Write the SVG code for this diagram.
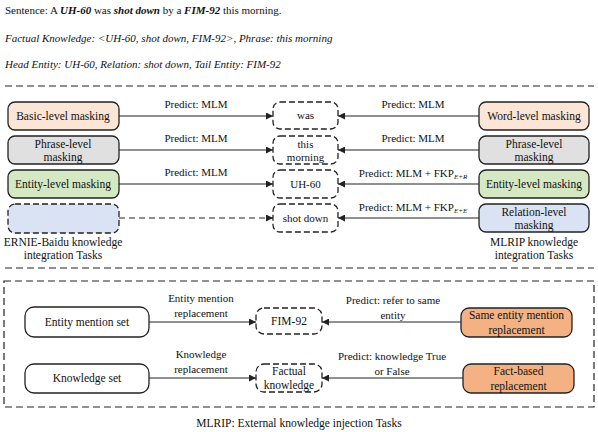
<svg xmlns="http://www.w3.org/2000/svg" width="598" height="432" viewBox="0 0 598 432" font-family="'Liberation Serif', 'DejaVu Serif', serif">
<style>
text{font-family:'Liberation Serif','DejaVu Serif',serif;fill:#111;}
.t{font-size:11px;}
.b{font-size:11.5px;text-anchor:middle;}
.l{font-size:11px;text-anchor:middle;}
.box{stroke:#222;stroke-width:1.3;}
.dbox{fill:#fff;stroke:#222;stroke-width:1.3;stroke-dasharray:6,3;}
.sep{fill:none;stroke:#222;stroke-width:1.2;stroke-dasharray:7,4;}
.ar{stroke:#222;stroke-width:1.2;fill:none;marker-end:url(#ah);}
.ard{stroke:#222;stroke-width:1.2;fill:none;stroke-dasharray:6,4;marker-end:url(#ah);}
</style>
<defs>
<marker id="ah" viewBox="0 0 10 10" refX="10" refY="5" markerWidth="7" markerHeight="7" markerUnits="userSpaceOnUse" orient="auto">
<path d="M0,0 L10,5 L0,10 Z" fill="#222"/>
</marker>
</defs>
<rect width="598" height="432" fill="#fff"/>
<text class="t" x="5" y="14">Sentence: A <tspan font-weight="bold" font-style="italic">UH-60</tspan> was <tspan font-weight="bold" font-style="italic">shot down</tspan>  by a <tspan font-weight="bold" font-style="italic">FIM-92</tspan> this morning.</text>
<text class="t" x="5" y="42" font-style="italic">Factual Knowledge: &lt;UH-60, shot down, FIM-92&gt;, Phrase: this morning</text>
<text class="t" x="5" y="68" font-style="italic">Head Entity: UH-60, Relation: shot down, Tail Entity: FIM-92</text>
<line class="sep" x1="5" y1="86" x2="594" y2="86"/>
<line class="sep" x1="5" y1="268" x2="594" y2="268"/>
<rect class="sep" x="4" y="281" width="590" height="126"/>

<g id="connectors">
<line class="ar" x1="119" y1="116" x2="273" y2="116"/>
<line class="ar" x1="119" y1="150" x2="273" y2="150"/>
<line class="ar" x1="119" y1="184" x2="273" y2="184"/>
<line class="ard" x1="119" y1="218" x2="273" y2="218"/>
<line class="ar" x1="479" y1="116" x2="338" y2="116"/>
<line class="ar" x1="479" y1="150" x2="338" y2="150"/>
<line class="ar" x1="479" y1="184" x2="338" y2="184"/>
<line class="ar" x1="479" y1="218" x2="338" y2="218"/>
<line class="ar" x1="149" y1="322" x2="256" y2="322"/>
<line class="ar" x1="149" y1="378" x2="256" y2="378"/>
<line class="ar" x1="461" y1="322" x2="322" y2="322"/>
<line class="ar" x1="463" y1="378" x2="322" y2="378"/>
<text class="l" x="196" y="108">Predict: MLM</text>
<text class="l" x="196" y="142">Predict: MLM</text>
<text class="l" x="196" y="176">Predict: MLM</text>
<text class="l" x="413" y="108">Predict: MLM</text>
<text class="l" x="413" y="142">Predict: MLM</text>
<text class="l" x="413" y="177">Predict: MLM + FKP<tspan font-size="7" font-style="italic" dy="2">E+R</tspan></text>
<text class="l" x="413" y="211">Predict: MLM + FKP<tspan font-size="7" font-style="italic" dy="2">E+E</tspan></text>
<text class="l" x="201" y="302">Entity mention</text>
<text class="l" x="201" y="317">replacement</text>
<text class="l" x="201" y="358">Knowledge</text>
<text class="l" x="201" y="373">replacement</text>
<text class="l" x="393" y="304">Predict: refer to same</text>
<text class="l" x="393" y="319">entity</text>
<text class="l" x="392" y="360">Predict: knowledge True</text>
<text class="l" x="392" y="375">or False</text>
</g>

<g id="basic"><rect class="box" x="8" y="102" width="111" height="28" rx="7" fill="#fbe5d6"/><text class="b" x="63" y="120">Basic-level masking</text></g>
<g id="phraseL"><rect class="box" x="8" y="136" width="111" height="28" rx="7" fill="#e0e0e0"/><text class="b" x="63" y="148">Phrase-level</text><text class="b" x="63" y="161">masking</text></g>
<g id="entityL"><rect class="box" x="8" y="170" width="111" height="28" rx="7" fill="#d5e8c4"/><text class="b" x="63" y="188">Entity-level masking</text></g>
<g id="emptyL"><rect class="dbox" x="8" y="204" width="111" height="29" rx="7" style="fill:#dae3f3"/></g>
<text class="b" x="63" y="246">ERNIE-Baidu knowledge</text>
<text class="b" x="63" y="259">integration Tasks</text>

<g id="was"><rect class="dbox" x="273" y="102" width="65" height="27" rx="7"/><text class="l" x="305.5" y="119">was</text></g>
<g id="morning"><rect class="dbox" x="273" y="136" width="65" height="28" rx="7"/><text class="l" x="305.5" y="148">this</text><text class="l" x="305.5" y="161">morning</text></g>
<g id="uh60"><rect class="dbox" x="273" y="170" width="65" height="28" rx="7"/><text class="l" x="305.5" y="188">UH-60</text></g>
<g id="shotdown"><rect class="dbox" x="273" y="204" width="65" height="28" rx="7"/><text class="l" x="305.5" y="222">shot down</text></g>

<g id="word"><rect class="box" x="479" y="102" width="110" height="28" rx="7" fill="#fbe5d6"/><text class="b" x="534" y="120">Word-level masking</text></g>
<g id="phraseR"><rect class="box" x="479" y="136" width="110" height="28" rx="7" fill="#e0e0e0"/><text class="b" x="534" y="148">Phrase-level</text><text class="b" x="534" y="161">masking</text></g>
<g id="entityR"><rect class="box" x="479" y="170" width="110" height="28" rx="7" fill="#d5e8c4"/><text class="b" x="534" y="188">Entity-level masking</text></g>
<g id="relationR"><rect class="box" x="479" y="204" width="110" height="28" rx="7" fill="#dae3f3"/><text class="b" x="534" y="216">Relation-level</text><text class="b" x="534" y="229">masking</text></g>
<text class="b" x="534" y="246">MLRIP knowledge</text>
<text class="b" x="534" y="259">integration Tasks</text>

<g id="entityset"><rect class="box" x="25" y="307" width="124" height="30" rx="9" fill="#fff"/><text class="b" x="87" y="326">Entity mention set</text></g>
<g id="knowset"><rect class="box" x="25" y="364" width="124" height="29" rx="9" fill="#fff"/><text class="b" x="87" y="382">Knowledge set</text></g>
<g id="fim92"><rect class="dbox" x="256" y="308" width="66" height="26" rx="8"/><text class="b" x="289" y="325">FIM-92</text></g>
<g id="factual"><rect class="dbox" x="256" y="364" width="66" height="28" rx="8"/><text class="b" x="289" y="375">Factual</text><text class="b" x="289" y="389">knowledge</text></g>
<g id="same"><rect class="box" x="461" y="308" width="111" height="29" rx="8" fill="#f4b183"/><text class="b" x="516.5" y="319">Same entity mention</text><text class="b" x="516.5" y="334">replacement</text></g>
<g id="fact"><rect class="box" x="463" y="364" width="111" height="29" rx="8" fill="#f4b183"/><text class="b" x="518.5" y="375">Fact-based</text><text class="b" x="518.5" y="390">replacement</text></g>

<text class="b" x="299" y="427">MLRIP: External knowledge injection Tasks</text>
</svg>
